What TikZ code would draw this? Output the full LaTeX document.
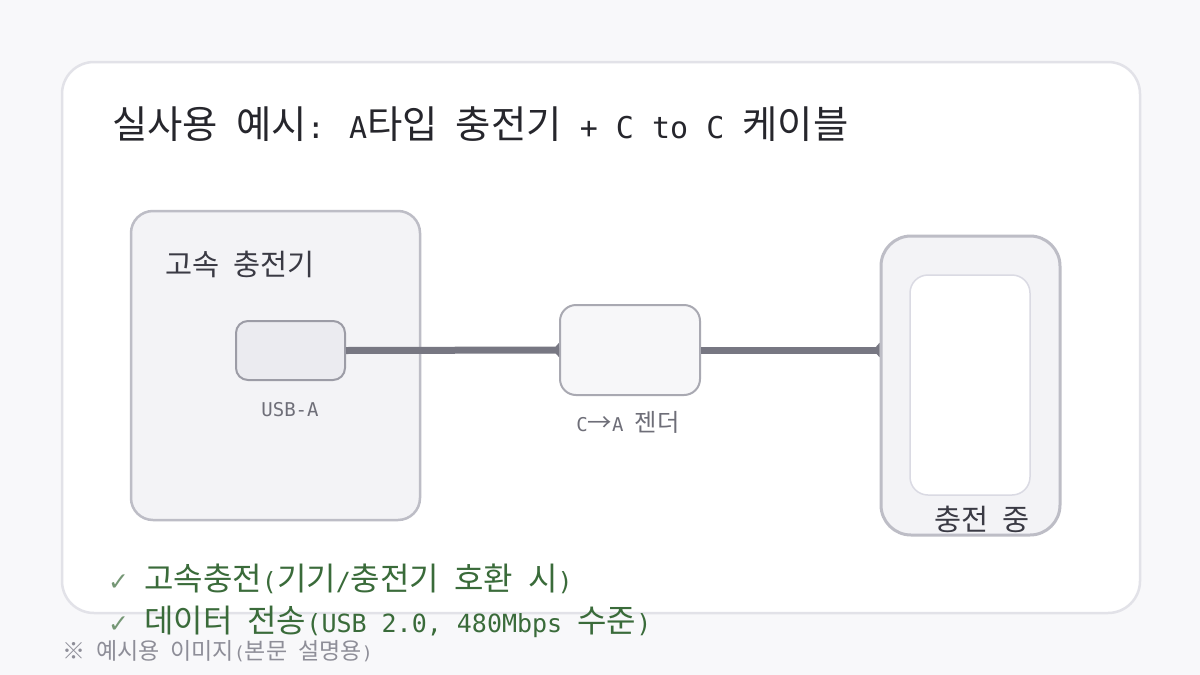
\documentclass[tikz,border=0pt]{standalone}
\usepackage{fontspec}
\setmainfont{DejaVu Sans Mono}
\newfontfamily\krfont{Noto Sans CJK KR}[Scale=1.28]
\newfontfamily\symfont{DejaVu Sans}
\newcommand\ko[1]{{\krfont #1}}
\usetikzlibrary{arrows.meta}
\definecolor{bgcol}{HTML}{F8F8FA}
\definecolor{cardline}{HTML}{E2E2E8}
\definecolor{titlecol}{HTML}{26262C}
\definecolor{boxfill}{HTML}{F3F3F6}
\definecolor{boxline}{HTML}{BDBDC6}
\definecolor{portfill}{HTML}{EBEBF0}
\definecolor{portline}{HTML}{9C9CA6}
\definecolor{genfill}{HTML}{F7F7F9}
\definecolor{genline}{HTML}{A9A9B2}
\definecolor{scrline}{HTML}{DADAE3}
\definecolor{cablecol}{HTML}{777782}
\definecolor{lblcol}{HTML}{6E6E78}
\definecolor{darktext}{HTML}{3A3A44}
\definecolor{okgreen}{HTML}{3A6B3A}
\definecolor{footcol}{HTML}{8E8E98}

\begin{document}
\begin{tikzpicture}[x=1pt,y=-1pt,
  box/.style={draw=boxline,fill=boxfill,line width=2.5pt,rounded corners=22pt,inner sep=0pt},
  cable/.style={line width=7pt,draw=cablecol,-{Latex[reversed,length=7pt,width=16pt]}},
  lbl/.style={text=lblcol,inner sep=0pt,anchor=base,font=\fontsize{19}{22}\selectfont},
  txt/.style={inner sep=0pt,anchor=base west}]
  \fill[bgcol] (0,0) rectangle (1200,675);
  \useasboundingbox (0,0) rectangle (1200,675);
  \draw[draw=cardline,fill=white,line width=2.5pt,rounded corners=32pt] (62,62) rectangle (1140,613);
  \node[txt,text=titlecol,font=\fontsize{30}{36}\selectfont] (title) at (112,138)
    {\ko{실사용} \ko{예시}: A\ko{타입} \ko{충전기} + C to C \ko{케이블}};

  \node[box,minimum width=289pt,minimum height=309pt] (charger) at (275.5,365.5) {};
  \node[txt,text=darktext,font=\fontsize{23}{28}\selectfont] (chglbl) at (165,275) {\ko{고속} \ko{충전기}};
  \node[box,draw=portline,fill=portfill,line width=2pt,rounded corners=12pt,
    minimum width=109pt,minimum height=59pt] (port) at (290.5,350.5) {};
  \node[lbl] (portlbl) at (290,416) {USB-A};

  \node[box,draw=genline,fill=genfill,line width=2pt,rounded corners=16pt,
    minimum width=140pt,minimum height=90pt] (gender) at (630,350) {};
  \node[lbl] (genlbl) at (628,431) {C\ko{→}A \ko{젠더}};

  \node[box,line width=3pt,rounded corners=30pt,minimum width=179pt,minimum height=299pt] (phone) at (970.5,385.5) {};
  \node[box,draw=scrline,fill=white,line width=1.5pt,rounded corners=18pt,
    minimum width=120pt,minimum height=220pt] (screen) at (970,385) {};
  \node[txt,anchor=base,text=darktext,font=\fontsize{23}{28}\selectfont] (phonelbl) at (982,530) {\ko{충전} \ko{중}};

  \draw[cable] (port.east) -- (gender.west);
  \draw[cable] (gender.east) -- (gender.east -| phone.west);

  \foreach \yy/\note [count=\i] in {590/{\ko{고속충전}(\ko{기기}/\ko{충전기} \ko{호환} \ko{시})},
      632/{\ko{데이터} \ko{전송}(USB 2.0, 480Mbps \ko{수준})}}
    \node[txt,text=okgreen,font=\fontsize{25}{30}\selectfont] (note\i) at (108,\yy)
      {{\symfont\color{okgreen!70}✓} \note};
  \node[txt,text=footcol,font=\fontsize{18}{22}\selectfont] (foot) at (62,659)
    {\ko{※} \ko{예시용} \ko{이미지}(\ko{본문} \ko{설명용})};
\end{tikzpicture}
\end{document}
